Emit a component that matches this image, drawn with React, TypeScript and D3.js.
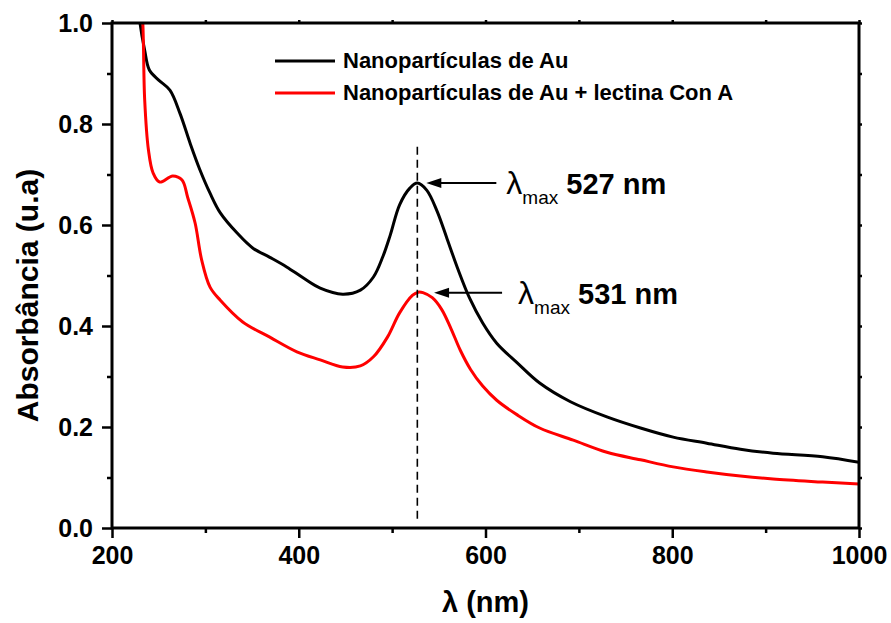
import React, { useEffect, useRef } from 'react';
import * as d3 from 'd3';

// wavelength (nm) and absorbance
const auNm = [226, 230, 235, 240, 250, 262, 273, 284, 294, 305, 316, 334, 351, 369, 387, 405, 423, 447, 466, 480, 490, 498, 508, 519, 527, 537, 548, 559, 570, 583, 597, 612, 634, 658, 691, 730, 766, 801, 837, 873, 908, 961, 1000];
const auAbs = [1.08, 1.0, 0.946, 0.907, 0.887, 0.867, 0.82, 0.76, 0.71, 0.663, 0.624, 0.584, 0.554, 0.536, 0.517, 0.495, 0.475, 0.463, 0.471, 0.497, 0.537, 0.58, 0.64, 0.673, 0.683, 0.669, 0.628, 0.572, 0.515, 0.455, 0.406, 0.366, 0.327, 0.287, 0.25, 0.22, 0.198, 0.18, 0.168, 0.156, 0.148, 0.141, 0.13];

const conNm = [230, 233, 235, 239, 244, 251, 265, 275, 281, 289, 296, 305, 316, 340, 369, 398, 423, 447, 466, 480, 495, 508, 522, 528, 533, 543, 553, 563, 573, 584, 597, 612, 634, 658, 694, 730, 766, 801, 837, 873, 908, 961, 1000];
const conAbs = [1.08, 1.0, 0.848, 0.749, 0.703, 0.685, 0.697, 0.689, 0.655, 0.604, 0.531, 0.477, 0.451, 0.408, 0.378, 0.349, 0.333, 0.319, 0.321, 0.339, 0.378, 0.426, 0.461, 0.467, 0.466, 0.456, 0.433, 0.395, 0.352, 0.314, 0.281, 0.253, 0.224, 0.198, 0.174, 0.15, 0.135, 0.121, 0.111, 0.103, 0.097, 0.091, 0.087];

const seriesNames = ['Nanopartículas de Au', 'Nanopartículas de Au + lectina Con A'];
const seriesColors = ['#000000', '#ff0000'];
const xTicks = [200, 400, 600, 800, 1000];
const yTicks = [0.0, 0.2, 0.4, 0.6, 0.8, 1.0];
const peaks = [
  { nm: 527, abs: 0.683, label: '527 nm' },
  { nm: 531, abs: 0.466, label: '531 nm' },
];

const W = 891, H = 623;
const FONT = '"Liberation Sans", Arial, Helvetica, sans-serif';

export default function App() {
  const ref = useRef<SVGSVGElement>(null);

  useEffect(() => {
    const svg = d3.select(ref.current);
    svg.selectAll('*').remove();

    const m = { left: 112, top: 23, right: W - 859, bottom: H - 528 };
    const iw = W - m.left - m.right;
    const ih = H - m.top - m.bottom;

    const x = d3.scaleLinear().domain([200, 1000]).range([0, iw]);
    const y = d3.scaleLinear().domain([0, 1]).range([ih, 0]);

    const g = svg.append('g').attr('transform', `translate(${m.left},${m.top})`);

    svg.append('defs').append('clipPath').attr('id', 'plotclip')
      .append('rect').attr('width', iw).attr('height', ih);

    // curves
    const line = d3.line<[number, number]>()
      .x(d => x(d[0])).y(d => y(d[1]))
      .curve(d3.curveCatmullRom.alpha(0.5));
    const series = [d3.zip(auNm, auAbs), d3.zip(conNm, conAbs)] as [number, number][][];
    series.forEach((pts, i) => {
      g.append('path')
        .attr('clip-path', 'url(#plotclip)')
        .attr('d', line(pts))
        .attr('fill', 'none')
        .attr('stroke', seriesColors[i])
        .attr('stroke-width', 3)
        .attr('stroke-linejoin', 'round');
    });

    // dashed vertical at 527 nm
    g.append('line')
      .attr('x1', x(527)).attr('x2', x(527))
      .attr('y1', y(0.755)).attr('y2', y(0.015))
      .attr('stroke', '#000').attr('stroke-width', 1.6)
      .attr('stroke-dasharray', '8,5');

    // axes
    const styleAxis = (sel: any) => {
      sel.select('.domain').remove();
      sel.selectAll('line').attr('stroke', '#000').attr('stroke-width', 2.5);
      sel.selectAll('text').attr('font-family', FONT).attr('font-weight', 'bold')
        .attr('font-size', 25).attr('fill', '#000');
    };
    const xMinor = d3.range(300, 1000, 200);
    const yMinor = [0.1, 0.3, 0.5, 0.7, 0.9];

    g.append('g').attr('transform', `translate(0,${ih})`)
      .call(d3.axisBottom(x).tickValues(xTicks).tickFormat(d3.format('d')).tickSize(10).tickPadding(8))
      .call(styleAxis);
    g.append('g').attr('transform', `translate(0,${ih})`)
      .call(d3.axisBottom(x).tickValues(xMinor).tickFormat(() => '').tickSize(5))
      .call(styleAxis);
    g.append('g')
      .call(d3.axisLeft(y).tickValues(yTicks).tickFormat(d3.format('.1f')).tickSize(10).tickPadding(9))
      .call(styleAxis);
    g.append('g')
      .call(d3.axisLeft(y).tickValues(yMinor).tickFormat(() => '').tickSize(5))
      .call(styleAxis);
    // small mirrored ticks on top and right
    g.append('g')
      .call(d3.axisTop(x).tickValues([...xTicks, ...xMinor]).tickFormat(() => '').tickSize(3))
      .call(styleAxis);
    g.append('g').attr('transform', `translate(${iw},0)`)
      .call(d3.axisRight(y).tickValues([...yTicks, ...yMinor]).tickFormat(() => '').tickSize(3))
      .call(styleAxis);

    // frame
    g.append('rect').attr('width', iw).attr('height', ih)
      .attr('fill', 'none').attr('stroke', '#000').attr('stroke-width', 3);

    // axis titles
    svg.append('text')
      .attr('x', m.left + iw / 2).attr('y', 612)
      .attr('text-anchor', 'middle')
      .attr('font-family', FONT).attr('font-weight', 'bold').attr('font-size', 29)
      .text('λ (nm)');
    svg.append('text')
      .attr('transform', `translate(38,${m.top + ih / 2 + 20}) rotate(-90)`)
      .attr('text-anchor', 'middle')
      .attr('font-family', FONT).attr('font-weight', 'bold').attr('font-size', 30)
      .text('Absorbância (u.a)');

    // legend
    const lg = svg.append('g');
    seriesNames.forEach((name, i) => {
      const ly = 61 + i * 32;
      lg.append('line').attr('x1', 275).attr('x2', 335).attr('y1', ly).attr('y2', ly)
        .attr('stroke', seriesColors[i]).attr('stroke-width', 3);
      lg.append('text').attr('x', 343).attr('y', ly + 7)
        .attr('font-family', FONT).attr('font-weight', 'bold').attr('font-size', 22)
        .text(name);
    });

    // peak annotations
    peaks.forEach((p, i) => {
      const tipX = x(p.nm) + 9 + i * 4;
      const py = y(p.abs);
      const tailX = tipX + 70 - i * 2;
      g.append('line').attr('x1', tipX + 12).attr('x2', tailX).attr('y1', py).attr('y2', py)
        .attr('stroke', '#000').attr('stroke-width', 2);
      g.append('path')
        .attr('d', `M${tipX},${py}L${tipX + 15},${py - 5}L${tipX + 15},${py + 5}Z`)
        .attr('fill', '#000');
      const t = g.append('text')
        .attr('x', tailX + 10 + i * 6).attr('y', py + 11)
        .attr('font-family', FONT).attr('fill', '#000');
      t.append('tspan').attr('font-size', 32).text('λ');
      t.append('tspan').attr('font-size', 19).attr('dy', 10).text('max');
      t.append('tspan').attr('font-size', 29).attr('font-weight', 'bold').attr('dy', -10).text(' ' + p.label);
    });
  }, []);

  return (
    <svg ref={ref} width={W} height={H}
      style={{ position: 'absolute', left: 0, top: 0, background: '#fff' }} />
  );
}
